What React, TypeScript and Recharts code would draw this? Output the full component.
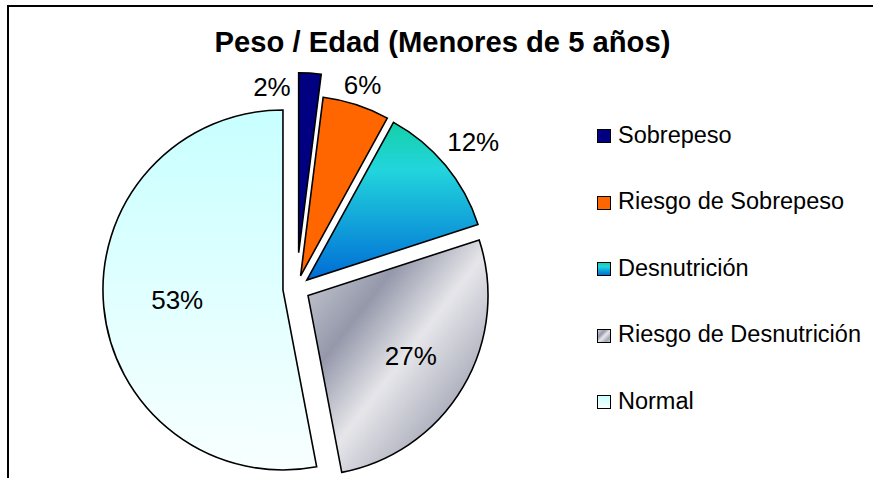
import { PieChart, Pie, Cell } from 'recharts';

const categories = ['Sobrepeso', 'Riesgo de Sobrepeso', 'Desnutrición', 'Riesgo de Desnutrición', 'Normal'];
const percents = [2, 6, 12, 27, 53];
const fills = ['#000080', '#FF6600', 'url(#gDesn)', 'url(#gRiesgoDesn)', 'url(#gNormal)'];
const legendFills = [
  '#000080',
  '#FF6600',
  'linear-gradient(180deg, #14D0A8 0%, #22D5DC 30%, #006CD6 100%)',
  'linear-gradient(135deg, #D4D5DA 0%, #9498AA 30%, #E6E6EA 52%, #A4A7B6 80%, #C8C9D0 100%)',
  'linear-gradient(180deg, #C8FFFF 0%, #F8FFFF 100%)',
];
// how far each slice is pulled out of the pie
const explode = [36, 13.5, 13.5, 13.5, 13.5];
// label placement: fraction of radius, and angle shift (deg, counter-clockwise)
const labelRadius = [0.933, 1.114, 1.2, 0.664, 0.59];
const labelShift = [12.75, 0, 0, 0, 0];

const data = categories.map((name, i) => ({ name, value: percents[i] }));

const CX = 296.4;
const CY = 288.7;
const R = 180;
const RAD = Math.PI / 180;
const FONT = 'Arial, "Liberation Sans", sans-serif';

const total = percents.reduce((a, b) => a + b, 0);
// slice centers, after the explosion
const centers = percents.map((v, i) => {
  const before = percents.slice(0, i).reduce((a, b) => a + b, 0);
  const mid = ((before + v / 2) / total) * 360 * RAD; // clockwise from 12 o'clock
  return { x: CX + explode[i] * Math.sin(mid), y: CY - explode[i] * Math.cos(mid) };
});

const renderLabel = (i: number) => (props: any) => {
  if (props.index !== i) return null;
  const ang = (props.midAngle + labelShift[i]) * RAD;
  const r = props.outerRadius * labelRadius[i];
  const x = props.cx + r * Math.cos(ang);
  const y = props.cy - r * Math.sin(ang);
  return (
    <text x={x} y={y} textAnchor="middle" dominantBaseline="central" fill="#000" fontSize={26} fontFamily={FONT}>
      {`${Math.round(props.percent * 100)}%`}
    </text>
  );
};

export default function App() {
  return (
    <div style={{ position: 'absolute', left: 0, top: 0, width: 880, height: 478, background: '#fff', overflow: 'hidden' }}>
      {/* chart frame */}
      <div style={{ position: 'absolute', left: 7, top: 5, width: 866, height: 500, borderTop: '2px solid #000', borderLeft: '2px solid #000', boxSizing: 'border-box' }} />

      <div style={{ position: 'absolute', left: 442.5, top: 28, transform: 'translateX(-50%)', whiteSpace: 'nowrap', fontFamily: FONT, fontWeight: 'bold', fontSize: 29.2, lineHeight: '28px', color: '#000' }}>
        Peso / Edad (Menores de 5 años)
      </div>

      <div style={{ position: 'absolute', left: 0, top: 0 }}>
        <PieChart width={880} height={478} margin={{ top: 0, right: 0, bottom: 0, left: 0 }}>
          <defs>
            <linearGradient id="gDesn" x1="0" y1="0" x2="0" y2="1">
              <stop offset="0%" stopColor="#14D0A8" />
              <stop offset="30%" stopColor="#22D5DC" />
              <stop offset="100%" stopColor="#006CD6" />
            </linearGradient>
            <linearGradient id="gRiesgoDesn" x1="0" y1="0" x2="1" y2="1">
              <stop offset="0%" stopColor="#D4D5DA" />
              <stop offset="30%" stopColor="#9498AA" />
              <stop offset="52%" stopColor="#E6E6EA" />
              <stop offset="80%" stopColor="#A4A7B6" />
              <stop offset="100%" stopColor="#C8C9D0" />
            </linearGradient>
            <linearGradient id="gNormal" x1="0" y1="0" x2="0" y2="1">
              <stop offset="0%" stopColor="#C8FFFF" />
              <stop offset="100%" stopColor="#F8FFFF" />
            </linearGradient>
          </defs>
          {categories.map((cat, i) => (
            <Pie
              key={cat}
              data={data}
              dataKey="value"
              nameKey="name"
              cx={centers[i].x}
              cy={centers[i].y}
              outerRadius={R}
              startAngle={90}
              endAngle={-270}
              isAnimationActive={false}
              labelLine={false}
              label={renderLabel(i)}
            >
              {data.map((d, j) => (
                <Cell
                  key={d.name}
                  fill={j === i ? fills[j] : 'none'}
                  stroke={j === i ? '#000' : 'none'}
                  strokeWidth={1.6}
                />
              ))}
            </Pie>
          ))}
        </PieChart>
      </div>

      {/* legend */}
      {categories.map((cat, i) => {
        const top = 129.3 + i * 66.4;
        return (
          <div key={cat}>
            <div style={{ position: 'absolute', left: 597, top, width: 14, height: 14, boxSizing: 'border-box', border: '1px solid #000', background: legendFills[i] }} />
            <div style={{ position: 'absolute', left: 618, top: top + 14 - 19.4, fontFamily: FONT, fontSize: 23.5, lineHeight: '23.5px', whiteSpace: 'nowrap', color: '#000' }}>
              {cat}
            </div>
          </div>
        );
      })}
    </div>
  );
}
